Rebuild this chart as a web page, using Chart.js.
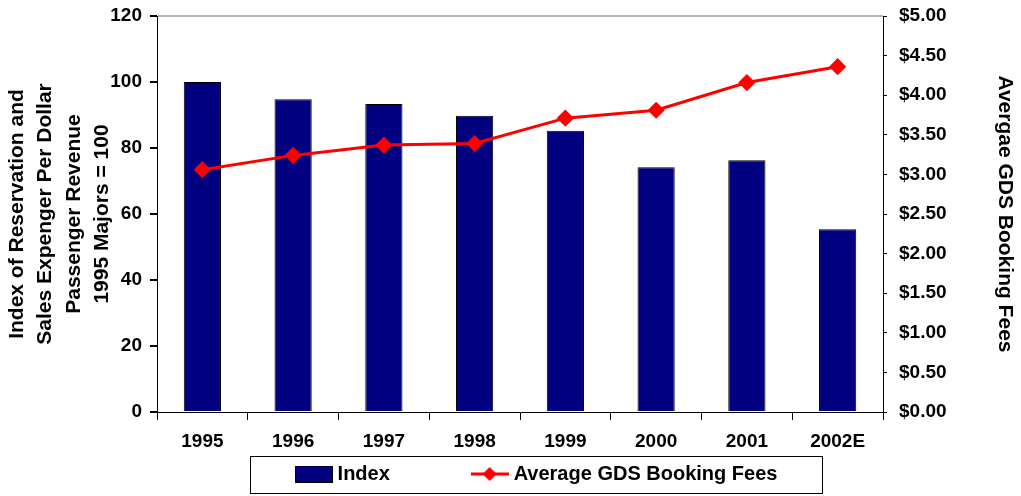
<!DOCTYPE html>
<html>
<head>
<meta charset="utf-8">
<script src="https://cdn.jsdelivr.net/npm/chart.js@4/dist/chart.umd.min.js"></script>
<style>
  html, body { margin:0; padding:0; background:#fff; }
  #wrap { width:1021px; height:496px; }
</style>
</head>
<body>
<div id="wrap"><canvas id="gds_Chart" width="1021" height="496"></canvas></div>
<script>
// values
var years = ["1995", "1996", "1997", "1998", "1999", "2000", "2001", "2002E"];
var indexData = [100, 94.8, 93.3, 89.8, 85.2, 74.2, 76.3, 55.4];
var feeData = [3.06, 3.24, 3.37, 3.39, 3.71, 3.81, 4.16, 4.36];

var leftTitle = ["Index of Reservation and", "Sales Expenger Per Dollar", "Passenger Revenue", "1995 Majors = 100"];
var rightTitle = "Avergae GDS Booking Fees";
var legendNames = ["Index", "Average GDS Booking Fees"];

var navy = "#000080";
var red = "#ff0000";
Chart.defaults.font.family = "'Liberation Sans', Arial, sans-serif";
Chart.defaults.font.weight = "bold";
Chart.defaults.font.size = 19;
Chart.defaults.color = "#000";

// small legend pictures
function barMark(){
    var c = document.createElement("canvas");
    c.width = 38; c.height = 17;
    var g = c.getContext("2d");
    g.fillStyle = navy; g.fillRect(1, 1, 36, 15);
    g.strokeStyle = "#000"; g.lineWidth = 1; g.strokeRect(0.5, 0.5, 37, 16);
    return c;
}
function lineMark(){
    var c = document.createElement("canvas");
    c.width = 38; c.height = 18;
    var g = c.getContext("2d");
    g.strokeStyle = red; g.lineWidth = 3;
    g.beginPath(); g.moveTo(0, 9); g.lineTo(38, 9); g.stroke();
    g.fillStyle = red;
    g.beginPath(); g.moveTo(19, 2); g.lineTo(26, 9); g.lineTo(19, 16); g.lineTo(12, 9); g.closePath(); g.fill();
    return c;
}

// the legend sits a bit right of centre, inside a frame
var legendBox = {
    id: "legendBox",
    afterLayout: function(chart){
        chart.legend.left += 28;
        chart.legend.right += 28;
    },
    afterDraw: function(chart){
        var l = chart.legend, ctx = chart.ctx;
        var x0 = 250, x1 = 822;
        ctx.save();
        ctx.strokeStyle = "#000"; ctx.lineWidth = 1;
        ctx.strokeRect(x0 + 0.5, l.top + 0.5, x1 - x0, l.height - 1);
        ctx.restore();
    }
};

var gdsChart = new Chart(document.getElementById("gds_Chart"), {
    type: "bar",
    plugins: [legendBox],
    data: {
        labels: years,
        datasets: [
            {
                type: "bar", label: legendNames[0], data: indexData, yAxisID: "y",
                backgroundColor: navy, borderColor: "#000", borderWidth: 1,
                categoryPercentage: 1, barPercentage: 0.41, order: 1
            },
            {
                type: "line", label: legendNames[1], data: feeData, yAxisID: "y1",
                borderColor: red, backgroundColor: red, borderWidth: 3,
                pointStyle: "rectRot", pointRadius: 6.5, pointHoverRadius: 6.5,
                tension: 0, order: 0
            }
        ]
    },
    options: {
        responsive: false,
        animation: false,
        layout: { padding: { top: 16, bottom: 2, left: 0, right: 0 } },
        plugins: {
            tooltip: { enabled: false },
            legend: {
                position: "bottom",
                labels: {
                    usePointStyle: true,
                    pointStyleWidth: 28,
                    boxHeight: 18,
                    padding: 8,
                    font: { size: 20, weight: "bold" },
                    generateLabels: function(chart){
                        // trailing spaces keep the wide gap between the two entries
                        return [
                            { text: legendNames[0] + "\u00a0".repeat(14), pointStyle: barMark(), datasetIndex: 0, lineWidth: 0, fillStyle: navy, strokeStyle: "#000" },
                            { text: legendNames[1], pointStyle: lineMark(), datasetIndex: 1, lineWidth: 0, fillStyle: red, strokeStyle: red }
                        ];
                    }
                }
            }
        },
        scales: {
            x: {
                offset: true,
                grid: { offset: true, drawOnChartArea: false, tickLength: 8, tickColor: "#000", color: "#000" },
                border: { color: "#000", width: 1 },
                ticks: { padding: 10 },
                afterFit: function(s){ s.height = 44; }
            },
            y: {
                position: "left", min: 0, max: 120,
                ticks: { stepSize: 20, padding: 8 },
                grid: {
                    drawOnChartArea: true, tickLength: 7, tickColor: "#000",
                    color: function(c){ return c.tick && c.tick.value === 120 ? "#b4b4b4" : "rgba(0,0,0,0)"; },
                    lineWidth: 2
                },
                border: { color: "#000", width: 1 },
                title: { display: true, text: leftTitle, font: { size: 21, weight: "bold", lineHeight: 1.35 }, padding: { top: 3, bottom: 0 } },
                afterFit: function(s){ s.width = 157; s.paddingTop = 0; s.paddingBottom = 0; }
            },
            y1: {
                position: "right", min: 0, max: 5,
                ticks: {
                    stepSize: 0.5, padding: 12,
                    callback: function(v){ return "$" + Number(v).toFixed(2); }
                },
                grid: { drawOnChartArea: false, tickLength: 4, tickColor: "#000" },
                border: { color: "#000", width: 1 },
                title: { display: true, text: rightTitle, font: { size: 21, weight: "bold", lineHeight: 1.35 }, padding: { top: 2, bottom: 0 } },
                afterFit: function(s){ s.width = 138; s.paddingTop = 0; s.paddingBottom = 0; }
            }
        }
    }
});
</script>
</body>
</html>
